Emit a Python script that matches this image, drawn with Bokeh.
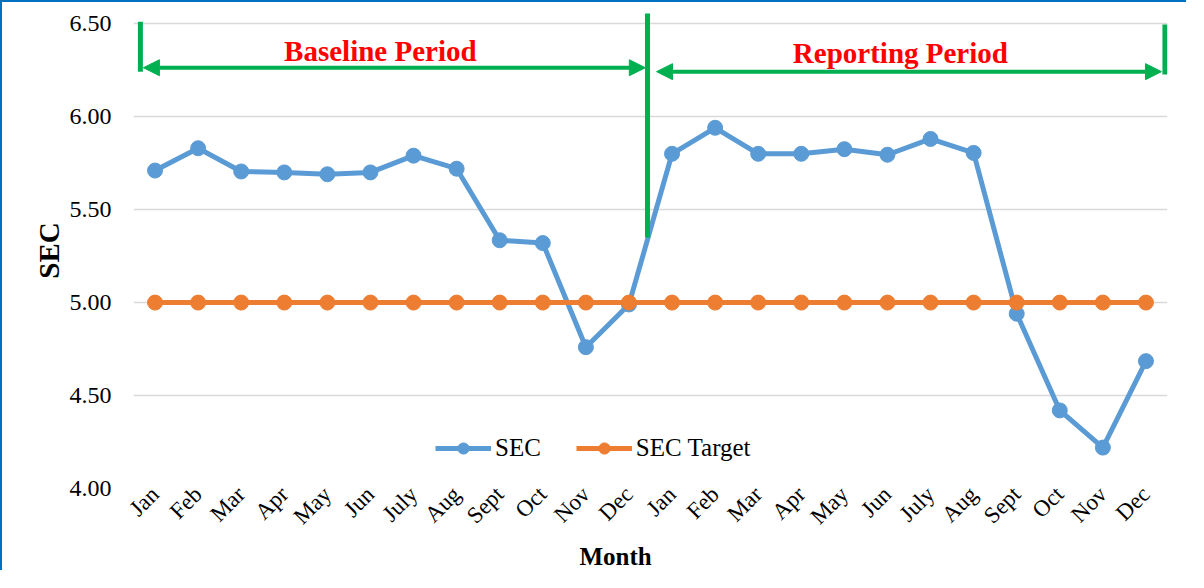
import numpy as np
from bokeh.plotting import figure
from bokeh.models import (Range1d, FixedTicker, Arrow, NormalHead, Legend, Label,
                          LegendItem, NumeralTickFormatter, Title)
from bokeh.embed import file_html
from bokeh.resources import INLINE

# ---- data ----
months = ["Jan", "Feb", "Mar", "Apr", "May", "Jun", "July", "Aug", "Sept", "Oct", "Nov", "Dec"]
categories = months + months
sec_baseline = [5.71, 5.83, 5.705, 5.70, 5.69, 5.70, 5.79, 5.72, 5.335, 5.32, 4.76, 4.99]
sec_reporting = [5.80, 5.94, 5.80, 5.80, 5.825, 5.795, 5.88, 5.805, 4.94, 4.42, 4.22, 4.685]
sec_values = sec_baseline + sec_reporting
sec_target = [5.00] * 24
y_ticks = [4.0, 4.5, 5.0, 5.5, 6.0, 6.5]
period_labels = ["Baseline Period", "Reporting Period"]

# annotation geometry (in axis units)
vline_x = [0.16, 11.93, 23.94]
vline_y0 = [6.242, 5.35, 6.226]
vline_y1 = [6.51, 6.555, 6.495]
arrow_x0 = [0.23, 12.14]
arrow_x1 = [11.88, 23.86]
arrow_y = [6.263, 6.242]
period_x = [5.73, 17.8]
period_y = [6.352, 6.342]

GREEN = "#00B050"
BLUE = "#5B9BD5"
ORANGE = "#ED7D31"
FONT = "Liberation Serif"

xs = [i + 0.5 for i in range(len(categories))]

p = figure(width=1186, height=570, x_range=Range1d(0, 24), y_range=Range1d(4.0, 6.56),
           output_backend="svg", toolbar_location=None,
           min_border_left=131, min_border_right=21, min_border_top=10, min_border_bottom=84)
p.styles = {"border-left": "2px solid #0070C0", "border-top": "2px solid #0070C0"}
p.outline_line_color = None
p.background_fill_color = "white"

# axes
p.xaxis.ticker = FixedTicker(ticks=xs)
p.xaxis.major_label_overrides = {x: c for x, c in zip(xs, categories)}
p.xaxis.major_label_orientation = np.pi / 4
p.xaxis.axis_line_color = None
p.xaxis.major_tick_line_color = None
p.xaxis.minor_tick_line_color = None
p.xaxis.major_tick_out = 0
p.xaxis.major_label_standoff = 2
p.xaxis.major_label_text_font = FONT
p.xaxis.major_label_text_font_size = "23px"
p.xaxis.major_label_text_color = "black"

p.yaxis.ticker = FixedTicker(ticks=y_ticks)
p.yaxis.formatter = NumeralTickFormatter(format="0.00")
p.yaxis.axis_line_color = None
p.yaxis.major_tick_line_color = None
p.yaxis.minor_tick_line_color = None
p.yaxis.major_tick_out = 0
p.yaxis.major_label_standoff = 22
p.yaxis.major_label_text_font = FONT
p.yaxis.major_label_text_font_size = "24px"
p.yaxis.major_label_text_color = "black"
p.yaxis.axis_label = "SEC"
p.yaxis.axis_label_text_font = FONT
p.yaxis.axis_label_text_font_style = "bold"
p.yaxis.axis_label_text_font_size = "29px"
p.yaxis.axis_label_text_color = "black"
p.yaxis.axis_label_standoff = 2

p.xgrid.grid_line_color = None
p.ygrid.ticker = FixedTicker(ticks=y_ticks)
p.ygrid.grid_line_color = "#D9D9D9"
p.ygrid.grid_line_width = 1.5

# series
r1 = p.line(xs, sec_values, line_color=BLUE, line_width=5)
r1s = p.scatter(xs, sec_values, size=15, fill_color=BLUE, line_color=BLUE)
r2 = p.line(xs, sec_target, line_color=ORANGE, line_width=5)
r2s = p.scatter(xs, sec_target, size=15, fill_color=ORANGE, line_color=ORANGE)

# period markers
p.segment(x0=vline_x, y0=vline_y0, x1=vline_x, y1=vline_y1, line_color=GREEN, line_width=5)
for x0, x1, y in zip(arrow_x0, arrow_x1, arrow_y):
    p.add_layout(Arrow(start=NormalHead(size=16, fill_color=GREEN, line_color=GREEN),
                       end=NormalHead(size=16, fill_color=GREEN, line_color=GREEN),
                       x_start=x0, y_start=y, x_end=x1, y_end=y,
                       line_color=GREEN, line_width=4))
for t, x, y in zip(period_labels, period_x, period_y):
    p.add_layout(Label(x=x, y=y, text=t, text_align="center", text_baseline="middle",
                       text_font=FONT, text_font_style="bold", text_font_size="29px",
                       text_color="#FF0000"))

# x axis title (placed left of centre as in the original)
p.add_layout(Title(text="Month", align="left", offset=446, standoff=0,
                   text_font=FONT, text_font_style="bold", text_font_size="25px",
                   text_color="black"), "below")

legend = Legend(items=[LegendItem(label="SEC", renderers=[r1, r1s]),
                       LegendItem(label="SEC Target", renderers=[r2, r2s])],
                orientation="horizontal", location=(302, 26),
                border_line_color=None, background_fill_alpha=0, padding=0, margin=0,
                glyph_width=56, glyph_height=28, label_standoff=4, spacing=35,
                label_text_font=FONT, label_text_font_size="25px", label_text_color="black")
p.add_layout(legend)

open("out.html", "w").write(file_html(p, INLINE))
